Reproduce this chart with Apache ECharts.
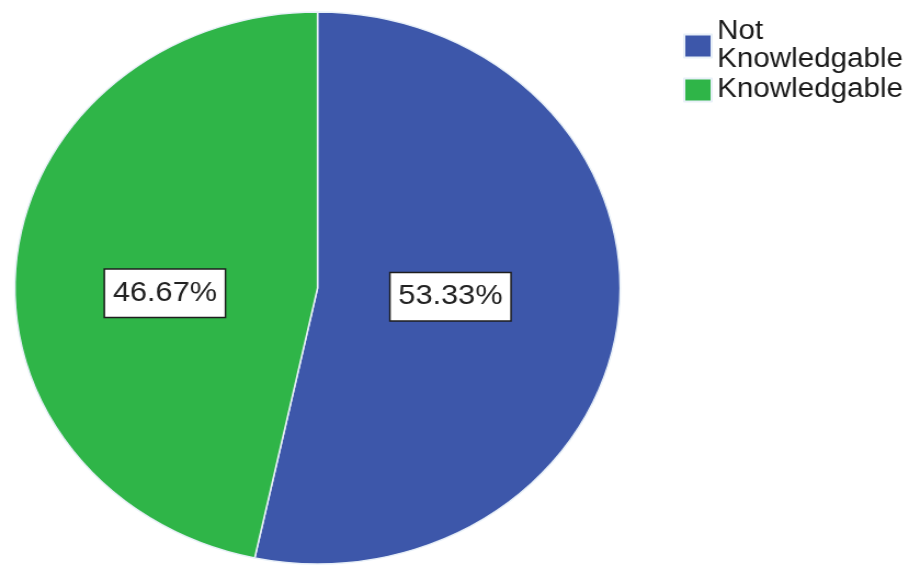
<!DOCTYPE html>
<html>
<head>
<meta charset="utf-8">
<script src="https://cdn.jsdelivr.net/npm/echarts@6/dist/echarts.min.js"></script>
<style>
  html, body { margin: 0; padding: 0; background: #ffffff; overflow: hidden; }
  #wrap { width: 920px; height: 566px; overflow: hidden; }
  #chart { width: 839px; height: 566px; transform: scaleX(1.0965); transform-origin: 0 0; }
</style>
</head>
<body>
<div id="wrap"><div id="chart"></div></div>
<script>
const categories = ['Not\nKnowledgable', 'Knowledgable'];
const values = [53.33, 46.67];
const colors = ['#3d57aa', '#2fb548'];
const labelOffsets = [[-19, -6], [1, 20]];

const chart = echarts.init(document.getElementById('chart'), null, { renderer: 'canvas' });

const data = categories.map((name, i) => ({
  name: name,
  value: values[i],
  itemStyle: { color: colors[i] },
  label: { offset: labelOffsets[i] }
}));

chart.setOption({
  animation: false,
  backgroundColor: '#ffffff',
  legend: {
    orient: 'vertical',
    left: 623,
    top: 18,
    padding: 0,
    itemWidth: 25,
    itemHeight: 23,
    itemGap: 2,
    icon: 'rect',
    selectedMode: false,
    textStyle: {
      fontFamily: 'Liberation Sans, Arial, sans-serif',
      fontSize: 27,
      lineHeight: 28,
      color: '#1a1a1a'
    },
    data: categories
  },
  series: [{
    type: 'pie',
    center: [289.6, 288],
    radius: [0, 276],
    startAngle: 90,
    clockwise: true,
    silent: true,
    itemStyle: { borderColor: '#e8f0f8', borderWidth: 1.5 },
    label: {
      show: true,
      position: 'inside',
      formatter: p => p.value.toFixed(2) + '%',
      fontFamily: 'Liberation Sans, Arial, sans-serif',
      fontSize: 28,
      lineHeight: 28,
      color: '#222222',
      backgroundColor: '#ffffff',
      borderColor: '#1e1e1e',
      borderWidth: 1.5,
      padding: [10, 7, 9, 7]
    },
    labelLine: { show: false },
    data: data
  }]
});
</script>
</body>
</html>
